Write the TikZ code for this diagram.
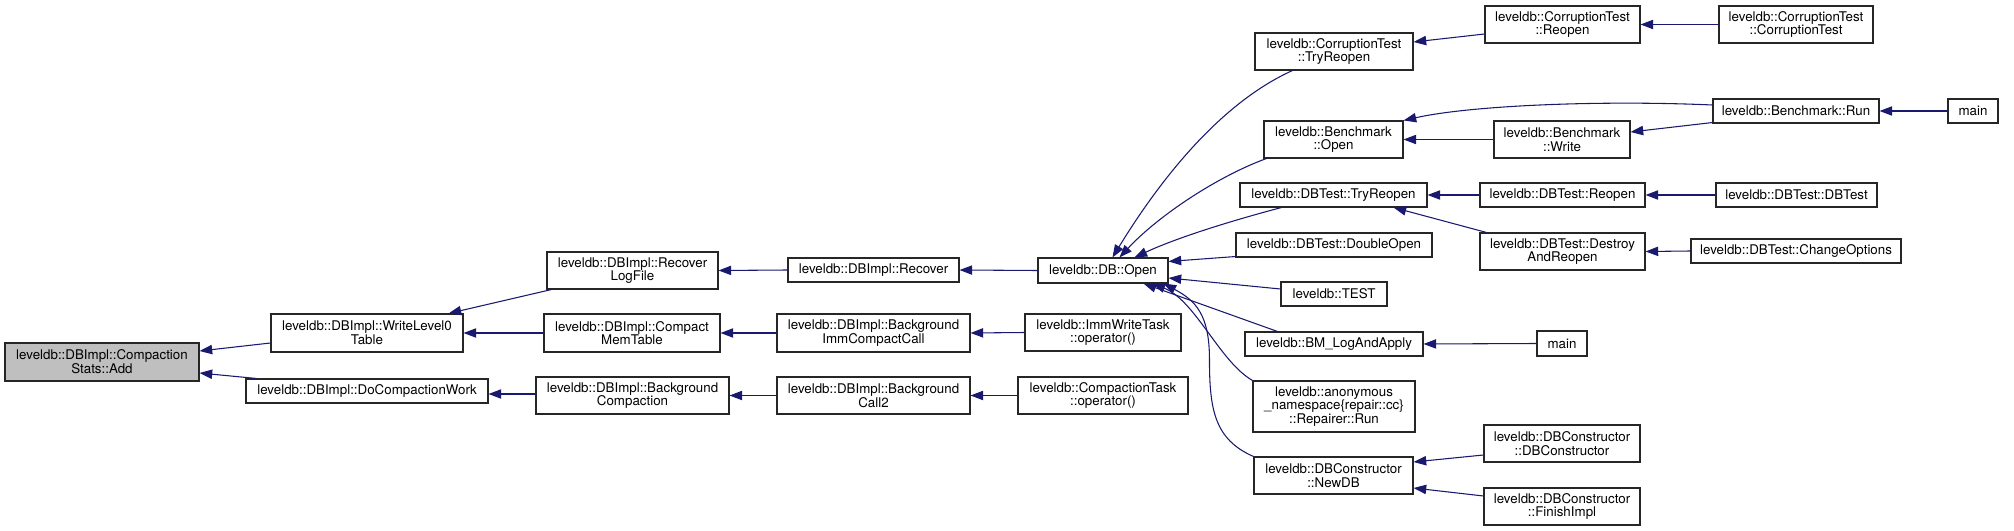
\documentclass[tikz,border=0pt]{standalone}
\usepackage{fontspec}
\setmainfont{TeX Gyre Heros}
\usetikzlibrary{arrows.meta,calc}
\definecolor{edgeblue}{HTML}{191970}
\definecolor{addgray}{HTML}{BFBFBF}
\tikzset{
  fn/.style 2 args={draw=black!85, fill=white, line width=0.8pt, inner sep=0pt, align=center,
    font=\fontsize{10}{10.3}\selectfont, minimum width=#1*0.75pt, minimum height=#2*0.75pt},
  edge/.style={draw=edgeblue, line width=0.8pt, -{Triangle[length=9.5pt,width=7pt]}},
}
\begin{document}
\begin{tikzpicture}[x=0.75pt,y=-0.75pt]
\useasboundingbox (0,0) rectangle (2014,531);
% column 0
\node[fn={194}{38}, fill=addgray] (add) at (102,362) {leveldb::DBImpl::Compaction\\Stats::Add};
% column 1
\node[fn={192}{38}] (wl0) at (367,333) {leveldb::DBImpl::WriteLevel0\\Table};
\node[fn={242}{24}] (dcw) at (367,391) {leveldb::DBImpl::DoCompactionWork};
% column 2
\node[fn={171}{37}] (rlf) at (632.5,270.5) {leveldb::DBImpl::Recover\\LogFile};
\node[fn={176}{38}] (cmt) at (632,333) {leveldb::DBImpl::Compact\\MemTable};
\node[fn={193}{37}] (bgc) at (632.5,395.5) {leveldb::DBImpl::Background\\Compaction};
% column 3
\node[fn={171}{24}] (rec) at (873.5,270) {leveldb::DBImpl::Recover};
\node[fn={193}{38}] (bimm) at (873.5,333) {leveldb::DBImpl::Background\\ImmCompactCall};
\node[fn={193}{37}] (bc2) at (873.5,395.5) {leveldb::DBImpl::Background\\Call2};
% column 4
\node[fn={130}{25}] (dbopen) at (1103,270.5) {leveldb::DB::Open};
\node[fn={156}{37}] (immw) at (1103,332.5) {leveldb::ImmWriteTask\\::operator()};
\node[fn={170}{37}] (ctask) at (1103,395.5) {leveldb::CompactionTask\\::operator()};
% column 5
\node[fn={158}{37}] (ctre) at (1334,51.5) {leveldb::CorruptionTest\\::TryReopen};
\node[fn={139}{37}] (bopen) at (1333.5,139.5) {leveldb::Benchmark\\::Open};
\node[fn={187}{24}] (dtre) at (1333.5,195) {leveldb::DBTest::TryReopen};
\node[fn={196}{24}] (dopen) at (1334,245) {leveldb::DBTest::DoubleOpen};
\node[fn={106}{24}] (test) at (1334,294) {leveldb::TEST};
\node[fn={178}{24}] (bmla) at (1334,344) {leveldb::BM\_LogAndApply};
\node[fn={162}{51}] (anon) at (1334,406.5) {leveldb::anonymous\\\_namespace\{repair::cc\}\\::Repairer::Run};
\node[fn={159}{37}] (newdb) at (1333.5,475.5) {leveldb::DBConstructor\\::NewDB};
% column 6
\node[fn={155}{37}] (ctrop) at (1562.5,24.5) {leveldb::CorruptionTest\\::Reopen};
\node[fn={136}{37}] (bwrite) at (1562,139.5) {leveldb::Benchmark\\::Write};
\node[fn={165}{24}] (dtreopen) at (1562.5,195) {leveldb::DBTest::Reopen};
\node[fn={165}{37}] (dar) at (1562.5,251.5) {leveldb::DBTest::Destroy\\AndReopen};
\node[fn={50}{25}] (main2) at (1562,343.5) {main};
\node[fn={156}{37}] (dbcdbc) at (1562,443.5) {leveldb::DBConstructor\\::DBConstructor};
\node[fn={156}{37}] (finish) at (1562,506.5) {leveldb::DBConstructor\\::FinishImpl};
% column 7
\node[fn={154}{37}] (ctct) at (1796,24.5) {leveldb::CorruptionTest\\::CorruptionTest};
\node[fn={166}{24}] (brun) at (1796,111) {leveldb::Benchmark::Run};
\node[fn={161}{24}] (dtdbt) at (1796.5,195) {leveldb::DBTest::DBTest};
\node[fn={210}{24}] (chop) at (1796,251) {leveldb::DBTest::ChangeOptions};
% column 8
\node[fn={50}{24}] (main1) at (1973,111) {main};

% edges (caller -> callee, arrow at callee)
\draw[edge] ($(wl0.west)+(0,10)$) -- ($(add.east)+(0,-11)$);
\draw[edge] ($(dcw.north west)+(11,0)$) -- ($(add.east)+(0,11)$);
\draw[edge] ($(rlf.south west)+(5,0)$) -- ($(wl0.north east)+(-15,0)$);
\draw[edge] (cmt.west) -- (wl0.east);
\draw[edge] (rec.west) -- (rlf.east);
\draw[edge] (bimm.west) -- (cmt.east);
\draw[edge] (bc2.west) -- (bgc.east);
\draw[edge] ($(bgc.west)+(0,-1.5)$) -- ($(dcw.east)+(0,3)$);
\draw[edge] (dbopen.west) -- (rec.east);
\draw[edge] (immw.west) -- (bimm.east);
\draw[edge] (ctask.west) -- (bc2.east);

\draw[edge] ($(ctre.south west)+(38,0)$) .. controls +(-71,32) and +(49,-80) .. ($(dbopen.north west)+(75,0)$);
\draw[edge] ($(bopen.south west)+(3,0)$) .. controls +(-47,17) and +(40,-43) .. ($(dbopen.north west)+(82,0)$);
\draw[edge] ($(dtre.south west)+(42,0)$) .. controls +(-42,11) and +(45,-21) .. ($(dbopen.north west)+(97,0)$);
\draw[edge] ($(dopen.south west)+(0,-1)$) -- ($(dbopen.north east)+(0,4)$);
\draw[edge] ($(test.west)+(0,-5)$) -- ($(dbopen.east)+(0,7.5)$);
\draw[edge] ($(bmla.north west)+(33,0)$) -- ($(dbopen.south east)+(-25,0)$);
\draw[edge] (anon.north west) .. controls +(-33,-19) and +(43,17) .. ($(dbopen.south east)+(-16,0)$);
\coordinate (nbend) at ($(newdb.north west)+(-44,-97)$);
\draw[edge] (newdb.north west) .. controls +(-39,-17) and +(0,50) .. (nbend)
  .. controls +(0,-45) and +(32,17) .. ($(dbopen.south east)+(-5,0)$);

\draw[edge] ($(ctrop.west)+(0,9.5)$) -- ($(ctre.east)+(0,-9.5)$);
\draw[edge] (ctct.west) -- (ctrop.east);
\draw[edge] ($(brun.west)+(0,-6)$) .. controls +(-113,-5) and +(67,-15) .. (bopen.north east);
\draw[edge] (bwrite.west) -- (bopen.east);
\draw[edge] ($(brun.south west)+(0,-1)$) -- ($(bwrite.east)+(0,-7.5)$);
\draw[edge] (main1.west) -- (brun.east);
\draw[edge] (dtreopen.west) -- (dtre.east);
\draw[edge] ($(dar.north west)+(7,0)$) -- ($(dtre.south east)+(-34,0)$);
\draw[edge] (dtdbt.west) -- (dtreopen.east);
\draw[edge] (chop.west) -- (dar.east);
\draw[edge] (main2.west) -- (bmla.east);
\draw[edge] ($(dbcdbc.west)+(0,11.5)$) -- ($(newdb.east)+(0,-13.5)$);
\draw[edge] ($(finish.west)+(0,-10.5)$) -- ($(newdb.east)+(0,12.5)$);
\end{tikzpicture}
\end{document}
